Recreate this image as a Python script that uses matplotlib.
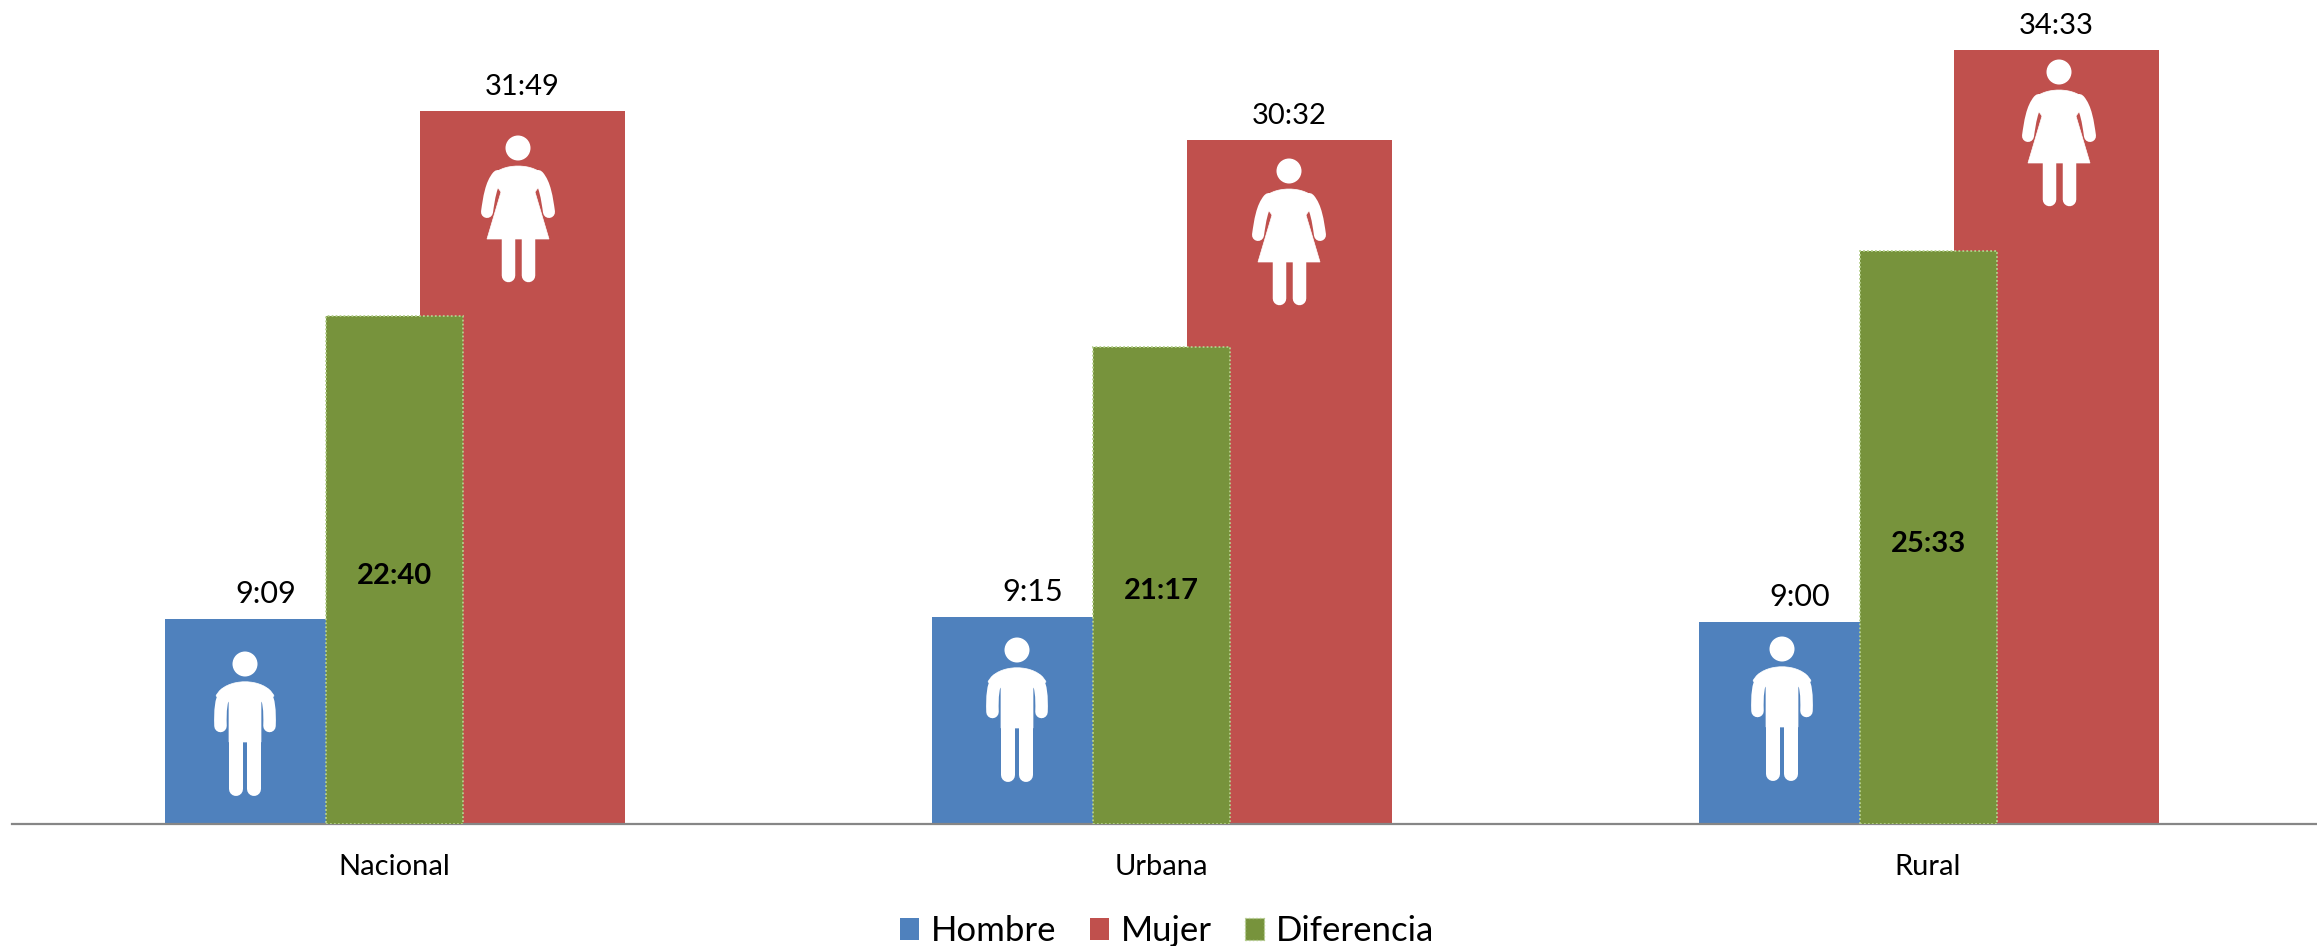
import matplotlib
matplotlib.use("Agg")
import matplotlib.pyplot as plt
from matplotlib.patches import Patch, Circle, PathPatch
from matplotlib.path import Path

W, H = 2317, 946
categories = ["Nacional", "Urbana", "Rural"]
hombre = ["9:09", "9:15", "9:00"]
mujer = ["31:49", "30:32", "34:33"]
diferencia = ["22:40", "21:17", "25:33"]

C_H, C_M, C_D = "#4F81BD", "#C0504D", "#77933C"
EDGE_D = "#B4CF8C"
FONT = "Lato"

# icon head centres (pixels)
man_heads = [(245, 664), (1017, 650), (1782, 649)]
woman_heads = [(518, 148), (1289, 171), (2059, 72)]


def hours(s):
    h, m = s.split(":")
    return int(h) + int(m) / 60


PX = 0.72  # points per pixel at dpi 100
fig = plt.figure(figsize=(W / 100, H / 100), dpi=100, facecolor="white")

base_px, left_px, c0_px, spacing_px, unit_px = 823.7, 12, 394, 767, 22.4
ax = fig.add_axes([left_px / W, (H - base_px) / H, (W - left_px) / W, base_px / H])
ax.set_xlim((left_px - c0_px) / spacing_px, (W - c0_px) / spacing_px)
ax.set_ylim(0, base_px / unit_px)
ax.set_facecolor("none")
for s in ("top", "left", "right"):
    ax.spines[s].set_visible(False)
ax.spines["bottom"].set_color("#868686")
ax.spines["bottom"].set_linewidth(1.6)
ax.set_yticks([])
xs = list(range(len(categories)))
ax.set_xticks(xs, categories, fontsize=21, family=FONT, color="black")
ax.tick_params(axis="x", length=0, pad=22)

vh = [hours(v) for v in hombre]
vm = [hours(v) for v in mujer]
vd = [hours(v) for v in diferencia]

OFF_H, OFF_D, OFF_M = -148.5 / spacing_px, 0.5 / spacing_px, 128.5 / spacing_px
WID_H, WID_D, WID_M = 161.5 / spacing_px, 137 / spacing_px, 205 / spacing_px

bh = ax.bar([x + OFF_H for x in xs], vh, WID_H, color=C_H, zorder=2)
bm = ax.bar([x + OFF_M for x in xs], vm, WID_M, color=C_M, zorder=2)
bd = ax.bar([x + OFF_D for x in xs], vd, WID_D, color=C_D, edgecolor=EDGE_D,
            linewidth=1.3, linestyle=(0, (1, 1.2)), zorder=3)

for i in xs:
    ax.annotate(hombre[i], (i + OFF_H, vh[i]), xytext=(20 * PX, 25 * PX), textcoords="offset points",
                ha="center", va="center", fontsize=22, family=FONT, color="black", zorder=5)
    ax.annotate(mujer[i], (i + OFF_M, vm[i]), xytext=(0, 24 * PX), textcoords="offset points",
                ha="center", va="center", fontsize=21, family=FONT, color="black", zorder=5)
    ax.annotate(diferencia[i], (i + OFF_D, vd[i] / 2), xytext=(0, -6 * PX), textcoords="offset points",
                ha="center", va="center", fontsize=21, family=FONT, fontweight="bold",
                color="black", zorder=5)

# pictogram overlay in pixel coordinates
ov = fig.add_axes([0, 0, 1, 1], facecolor="none")
ov.set_xlim(0, W)
ov.set_ylim(H, 0)
ov.axis("off")


def stroke(verts, codes, lw):
    ov.add_patch(PathPatch(Path(verts, codes), fc="none", ec="white", lw=lw * PX,
                           capstyle="round", joinstyle="round"))


def fill(verts, codes):
    ov.add_patch(PathPatch(Path(verts, codes), fc="white", ec="white", lw=0.5))


MC, LT, CU = Path.MOVETO, Path.LINETO, Path.CURVE4


def woman(cx, cy):
    ov.add_patch(Circle((cx, cy), 12.5, fc="white", ec="none"))
    p = lambda x, y: (cx + x, cy + y)
    for s in (-1, 1):
        stroke([p(s * 20, 28), p(s * 27, 36), p(s * 29, 50), p(s * 31, 64)], [MC, CU, CU, CU], 12)
        stroke([p(s * 10, 90), p(s * 10, 127)], [MC, LT], 13.5)
    fill([p(-27, 30), p(-19, 14), p(19, 14), p(27, 30), p(17, 44), p(31, 91), p(-31, 91), p(-17, 44), p(-27, 30)],
         [MC, CU, CU, CU, LT, LT, LT, LT, LT])


def man(cx, cy):
    ov.add_patch(Circle((cx, cy), 12.5, fc="white", ec="none"))
    p = lambda x, y: (cx + x, cy + y)
    for s in (-1, 1):
        stroke([p(s * 20, 30), p(s * 24, 36), p(s * 25, 46), p(s * 24.5, 62)], [MC, CU, CU, CU], 12.5)
        stroke([p(s * 9, 70), p(s * 9, 125)], [MC, LT], 14)
    fill([p(-29, 32), p(-20, 13), p(20, 13), p(29, 32), p(16, 38), p(16, 78), p(-16, 78), p(-16, 38), p(-29, 32)],
         [MC, CU, CU, CU, LT, LT, LT, LT, LT])


for hx, hy in man_heads:
    man(hx, hy)
for hx, hy in woman_heads:
    woman(hx, hy)

handles = [Patch(fc=C_H, label="Hombre"), Patch(fc=C_M, label="Mujer"),
           Patch(fc=C_D, ec=EDGE_D, lw=1, ls=":", label="Diferencia")]
fig.legend(handles=handles, loc="center", bbox_to_anchor=(1167 / W, (H - 931) / H), ncols=3, frameon=False,
           prop={"family": FONT, "size": 25}, handlelength=0.55, handleheight=0.6,
           handletextpad=0.35, columnspacing=0.95, borderpad=0, borderaxespad=0)

fig.savefig("out.png", dpi=100)
